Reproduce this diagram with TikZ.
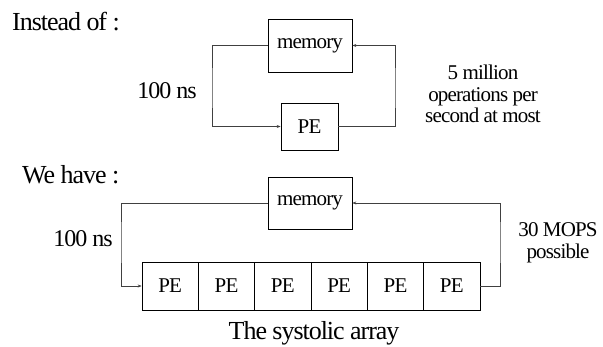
\documentclass[tikz,border=0pt]{standalone}
\usepackage{fontspec}
\setmainfont{Liberation Serif}
\newfontfamily\tightserif{Liberation Serif}[LetterSpace=-4]
\usetikzlibrary{arrows.meta}
\tikzset{
  x=1pt, y=-1pt,
  box/.style={draw=black, line width=0.7pt, inner sep=0pt, font=\tightserif\fontsize{21}{21}\selectfont},
  conn/.style={draw=black!75, line width=0.6pt},
  arr/.style={conn, -{Stealth[length=4pt,width=3pt]}},
  big/.style={font=\tightserif\fontsize{26}{26}\selectfont, inner sep=0pt},
  mid/.style={font=\tightserif\fontsize{24}{24}\selectfont, inner sep=0pt},
  note/.style={font=\tightserif\fontsize{21}{21.5}\selectfont, align=center, inner sep=0pt}
}
\begin{document}
\begin{tikzpicture}
\useasboundingbox (0,0) rectangle (603,347);
% top part
\node[big, anchor=west] (t1) at (12,22) {Instead of :};
\node[box, minimum width=84pt, minimum height=53pt] (m1) at (310,45.5) {memory};
\node[box, minimum width=57pt, minimum height=47pt] (p1) at (309.5,126.5) {PE};
\node[mid] (ns1) at (167,91) {100 ns};
\node[note] (n1) at (483,94) {5 million\\operations per\\second at most};
\coordinate (c1) at (212,90);
\coordinate (c2) at (395,90);
\draw[arr] (m1.west) -| (c1) |- (p1.west);
\draw[arr] (p1.east) -| (c2) |- (m1.east);
% bottom part
\node[big, anchor=west] (t2) at (22,175) {We have :};
\node[box, minimum width=84pt, minimum height=52pt] (m2) at (310,203) {memory};
\foreach \i in {1,...,6} {
  \node[box, minimum width=56.33pt, minimum height=48pt] (q\i) at ({142+56.33*(\i-0.5)},286) {PE};
}
\node[mid] (ns2) at (83,239) {100 ns};
\node[note] (n2) at (558,243) {30 MOPS\\possible};
\node[big] (t3) at (314,333) {The systolic array};
\coordinate (c3) at (121,240);
\coordinate (c4) at (500,240);
\draw[arr] (m2.west) -| (c3) |- (q1.west);
\draw[arr] (q6.east) -| (c4) |- (m2.east);
\end{tikzpicture}
\end{document}
